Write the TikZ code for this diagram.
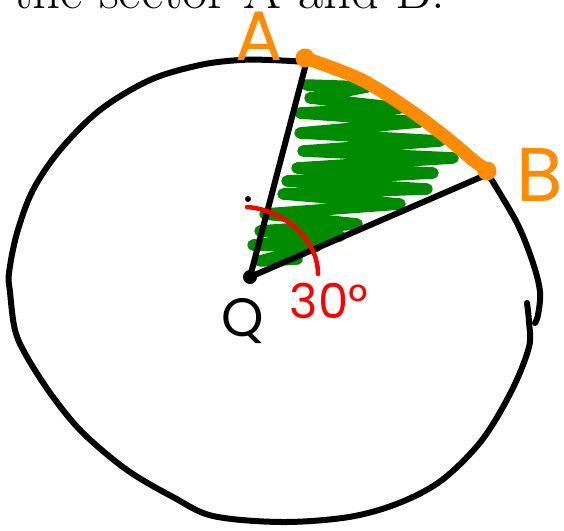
\documentclass[tikz,border=0pt]{standalone}
\usepackage{fontspec}
\newfontfamily\handfont{Poppins}
\definecolor{pen}{RGB}{0,0,0}
\definecolor{hatch}{RGB}{0,140,0}
\definecolor{arcorange}{RGB}{255,140,0}
\definecolor{angred}{RGB}{255,0,0}
\tikzset{
  ink/.style={draw=pen, line width=6pt, line cap=round, line join=round},
  hatchstroke/.style={draw=hatch, line width=11.5pt, line cap=round, line join=round},
  orangearc/.style={draw=arcorange, line width=13pt, line cap=round, line join=round},
  redarc/.style={draw=angred, line width=4.5pt, line cap=round},
  handlabel/.style={inner sep=0pt, font=\handfont},
}
\begin{document}
\begin{tikzpicture}[x=1pt, y=-1pt]
\clip (0,0) rectangle (564,530);
\useasboundingbox (0,0) rectangle (564,530);
\fill[white] (0,0) rectangle (564,530);

% heading text, cut off at the top
\node[anchor=base west, inner sep=0pt, font=\fontsize{54.7}{60}\selectfont] (title) at (13,9) {the sector A and B.};

% key points
\coordinate (Q) at (250,277);
\coordinate (A) at (307,60);
\coordinate (B) at (488,174);

% green hatching of the sector
\draw[hatchstroke] (307,85) -- (367,87) -- (310,98) -- (400,108) -- (300,113) -- (420,122)
  -- (300,133) -- (440,141) -- (303,151) -- (453,158) -- (297,168) -- (433,173)
  -- (287,181) -- (427,189) -- (283,194) -- (400,204) -- (265,214) -- (357,224)
  -- (260,231) -- (340,236) -- (253,245) -- (317,246) -- (260,261) -- (297,259);

% circle (hand drawn, in strokes)
\draw[ink] plot[smooth, tension=0.55] coordinates {
  (308,62) (270,60) (240,60) (200,65) (150,80) (100,110) (60,150) (33,190)
  (17,233) (9,273) (10,292) (15,330) (27,357) (53,397) (83,433) (127,470)
  (173,497) (213,516) (282,522) (349,517) (399,503) (442,480) (482,440)
  (512,390) (529,347) (529,322) (527,303)};
\draw[ink] plot[smooth, tension=0.55] coordinates {
  (308,62) (360,82) (410,110) (452,140) (488,174)};
\draw[ink] plot[smooth, tension=0.55] coordinates {
  (488,174) (517,223) (533,263) (540,292) (538,315) (535,323)};

% sector radii
\draw[ink] (Q) -- (A);
\draw[ink] (Q) -- (B);
\fill[pen] (Q) circle (7pt);
\fill[pen] (248,199) circle (3pt);

% orange arc AB
\draw[orangearc] plot[smooth, tension=0.55] coordinates {
  (305,58) (360,79) (407,108) (447,138) (473,160) (488,171)};
\fill[arcorange] (305,58) circle (9.5pt);
\fill[arcorange] (487,171) circle (9.5pt);

% angle mark
\draw[redarc] (247,207) .. controls (285,210) and (318,240) .. (318,274);

% labels
\node[handlabel, text=arcorange, font=\handfont\fontsize{70}{70}\selectfont] (labA) at (259,36) {A};
\node[handlabel, text=arcorange, font=\handfont\fontsize{76}{76}\selectfont] (labB) at (540,175) {B};
\node[handlabel, text=pen, font=\handfont\fontsize{54}{54}\selectfont] (labQ) at (243,321) {Q};
\node[handlabel, text=angred, font=\handfont\fontsize{48}{48}\selectfont] (lab30) at (329,301) {30°};
\end{tikzpicture}
\end{document}
